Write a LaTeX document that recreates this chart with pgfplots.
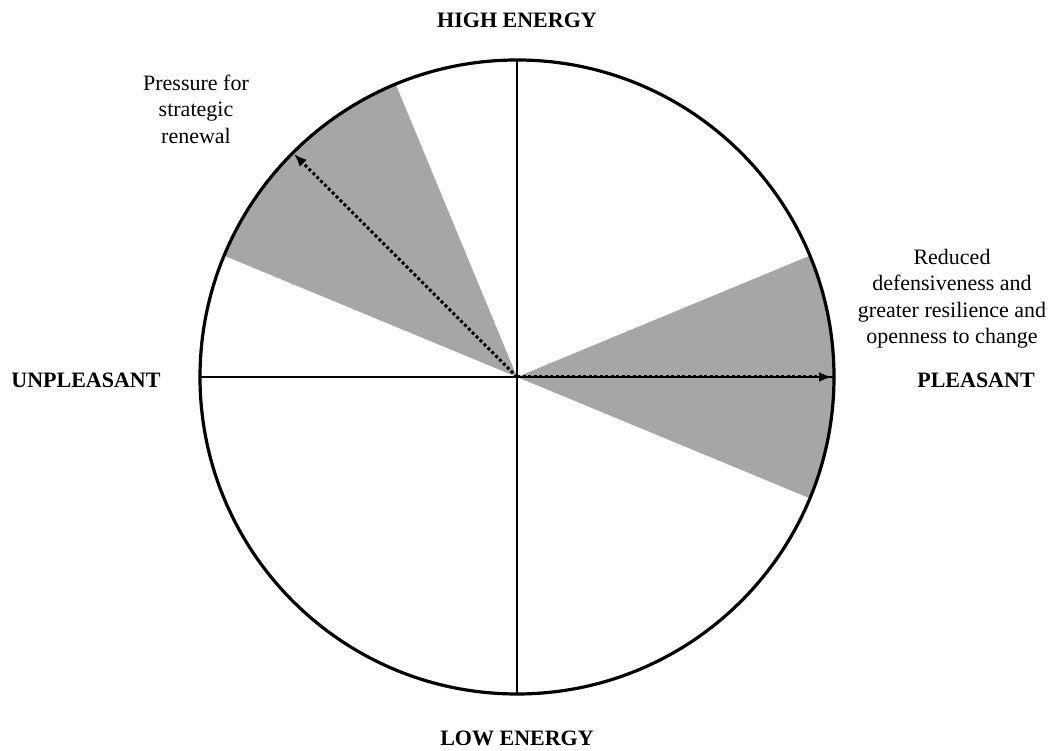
\documentclass[border=0pt]{standalone}
\usepackage{fontspec}
\setmainfont{Liberation Serif}
\usepackage{pgfplots}
\pgfplotsset{compat=1.18}
\usetikzlibrary{arrows.meta}
\definecolor{wedgegray}{RGB}{166,166,166}
% one axis unit = 1pt, so polar offsets in pt stay in axis units
\pgfplotsset{circumplex/.style={
    width=1055pt, height=751pt, scale only axis,
    xmin=0, xmax=1055, ymin=0, ymax=751,
    axis lines=none, clip=false,
  }}
\begin{document}
\begin{tikzpicture}
\begin{axis}[circumplex]
% shaded sectors
\fill[wedgegray] (axis cs:517,374) -- ++(-22.5:317pt) arc[start angle=-22.5, end angle=22.5, radius=317pt] -- cycle;
\fill[wedgegray] (axis cs:517,374) -- ++(112.5:317pt) arc[start angle=112.5, end angle=157.5, radius=317pt] -- cycle;
% axes of the circumplex
\addplot[black, line width=2.6pt] coordinates {(200,374) (834,374)};
\addplot[black, line width=2.6pt] coordinates {(517,57) (517,691)};
\draw[black, line width=3.2pt] (axis cs:517,374) circle[radius=317pt];
% dotted arrows
\addplot[black, line width=3pt, dash pattern=on 3pt off 2.5pt,
  -{Latex[length=13pt,width=10pt]}] coordinates {(517,374) (832,374)};
\addplot[black, line width=3pt, dash pattern=on 3pt off 2.5pt,
  -{Latex[length=13pt,width=10pt]}] coordinates {(517,374) (294,597)};
% labels
\begin{scope}[every node/.style={font=\fontsize{22}{26.5}\selectfont, align=center}]
\node[font=\fontsize{22}{26.5}\selectfont\bfseries] at (axis cs:517,731) {HIGH ENERGY};
\node[font=\fontsize{22}{26.5}\selectfont\bfseries] at (axis cs:517,13) {LOW ENERGY};
\node[font=\fontsize{22}{26.5}\selectfont\bfseries] at (axis cs:86,371) {UNPLEASANT};
\node[font=\fontsize{22}{26.5}\selectfont\bfseries] at (axis cs:976,371) {PLEASANT};
\node at (axis cs:196,642) {Pressure for\\strategic\\renewal};
\node at (axis cs:952,452) {Reduced\\defensiveness and\\greater resilience and\\openness to change};
\end{scope}
\end{axis}
\pgfresetboundingbox
\useasboundingbox (current axis.south west) rectangle (current axis.north east);
\end{tikzpicture}
\end{document}
